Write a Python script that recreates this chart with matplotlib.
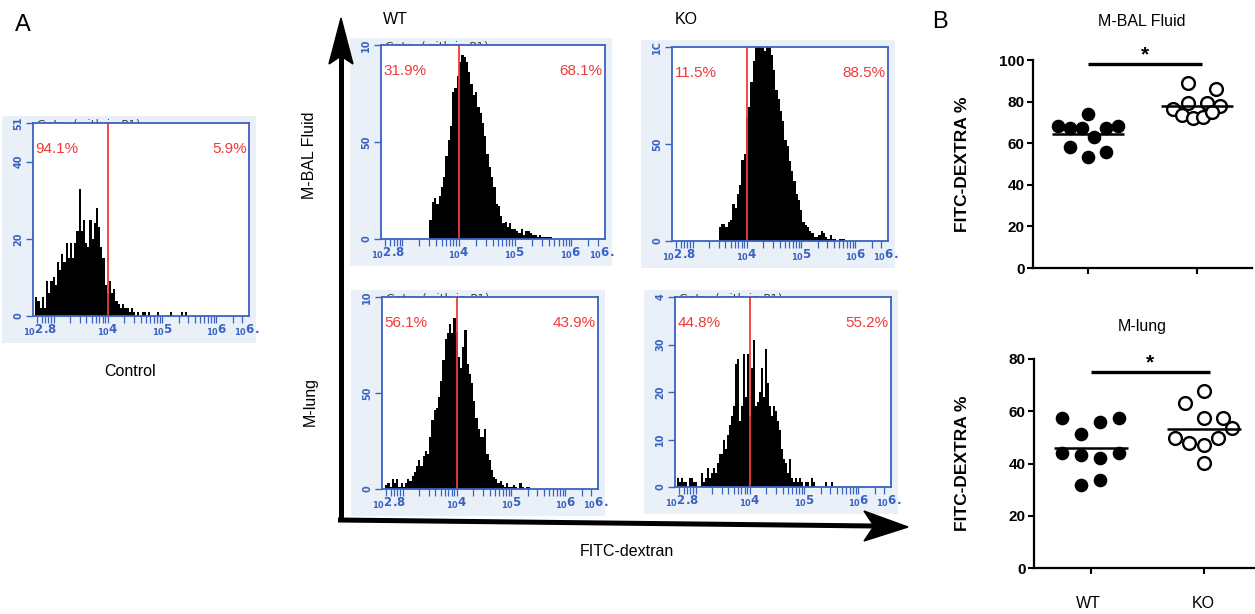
import numpy as np
import matplotlib
matplotlib.use('Agg')
import matplotlib.pyplot as plt
from matplotlib.patches import Rectangle, Polygon

plt.rcParams['font.family'] = ['Liberation Sans', 'DejaVu Sans']

W, H = 1255, 614
BLUE = '#3a62c2'
RED = '#f03a3a'
PANEL_BG = '#e9f0f7'

# ---- flow histograms: counts per log10 bin ----
control_counts = [5, 4, 2, 5, 2, 9, 6, 9, 10, 8, 14, 12, 16, 14, 19, 15, 19, 15, 19, 22,
                  33, 22, 25, 19, 18, 25, 20, 24, 28, 23, 18, 15, 8, 6, 9, 6, 7, 4, 3, 2,
                  3, 2, 2, 1, 2, 1, 0, 1, 0, 1, 1, 0, 1, 0, 0, 0, 1, 0, 0, 0,
                  0, 0, 1, 0, 0, 0, 0, 1, 0, 1]
wt_bal_counts = [10, 19, 21, 18, 22, 27, 32, 43, 51, 58, 76, 78, 84, 91, 95, 94, 91, 86, 80, 74,
                 76, 68, 65, 60, 53, 44, 37, 32, 27, 18, 17, 12, 8, 9, 6, 8, 5, 5, 4, 3,
                 5, 2, 4, 4, 3, 2, 2, 1, 2, 1, 1, 1, 1, 1]
ko_bal_counts = [7, 9, 9, 7, 10, 11, 19, 17, 24, 29, 42, 45, 64, 69, 82, 93, 110, 110, 110, 110,
                 98, 110, 105, 96, 88, 78, 73, 67, 62, 52, 49, 41, 36, 31, 24, 21, 16, 10, 8, 7,
                 5, 4, 2, 2, 3, 5, 4, 2, 1, 3, 1, 1, 0, 1, 1, 1]
wt_lung_counts = [2, 3, 1, 5, 3, 5, 1, 3, 1, 3, 5, 4, 7, 9, 12, 15, 12, 17, 20, 18,
                  27, 36, 41, 42, 48, 56, 67, 78, 81, 86, 81, 89, 82, 69, 63, 74, 83, 65, 60, 55,
                  46, 37, 31, 27, 27, 31, 18, 15, 10, 6, 5, 3, 4, 2, 1, 3, 1, 1, 2, 1,
                  0, 3, 1, 0, 1, 1]
ko_lung_counts = [2, 1, 2, 1, 1, 0, 2, 2, 1, 1, 0, 0, 3, 1, 2, 4, 2, 3, 4, 3,
                  5, 7, 7, 10, 8, 11, 13, 15, 17, 26, 27, 14, 17, 28, 19, 28, 15, 25, 31, 17,
                  18, 20, 25, 19, 29, 22, 17, 15, 17, 16, 14, 12, 8, 6, 5, 3, 6, 2, 1, 2,
                  1, 2, 1, 0, 1, 1, 0, 2, 1, 0, 0, 0, 0, 0, 1, 0, 0, 1]
pct_labels = {
    'control': ('94.1%', '5.9%'),
    'wt_bal': ('31.9%', '68.1%'),
    'ko_bal': ('11.5%', '88.5%'),
    'wt_lung': ('56.1%', '43.9%'),
    'ko_lung': ('44.8%', '55.2%'),
}
x_tick_labels = ['2.8', '4', '5', '6', '6.']
x_tick_pos = [2.75, 4.0, 5.0, 6.0, 6.55]
gate_text = 'Gate: (with in P1)'

# ---- FITC-DEXTRA % scatter data ----
wt_bal = [68.3, 67.2, 67.2, 74.0, 63.1, 67.2, 68.3, 58.3, 53.5, 55.6]
ko_bal = [88.8, 86.0, 76.3, 79.2, 79.2, 78.0, 73.6, 72.0, 72.8, 75.2]
wt_lung = [57.3, 56.0, 57.5, 51.2, 43.9, 43.3, 42.0, 43.9, 31.8, 33.7]
ko_lung = [67.9, 63.3, 57.3, 57.3, 53.7, 49.6, 47.7, 47.1, 49.6, 40.1]
groups = ['WT', 'KO']

# horizontal spread of the dots within each group
wt_bal_jit = [-0.275, -0.165, -0.055, 0, 0.055, 0.165, 0.275, -0.165, 0, 0.165]
ko_bal_jit = [-0.083, 0.174, -0.22, -0.083, 0.092, 0.211, -0.138, -0.037, 0.055, 0.138]
wt_lung_jit = [-0.257, 0.08, 0.248, -0.088, -0.257, -0.088, 0.08, 0.248, -0.088, 0.08]
ko_lung_jit = [0, -0.168, 0, 0.168, 0.248, -0.257, -0.133, 0, 0.124, 0]

fig = plt.figure(figsize=(W / 100, H / 100), dpi=100)
ov = fig.add_axes([0, 0, 1, 1], zorder=-1)
ov.set_xlim(0, W)
ov.set_ylim(H, 0)
ov.axis('off')


def px_axes(x0, y0, x1, y1):
    return fig.add_axes([x0 / W, 1 - y1 / H, (x1 - x0) / W, (y1 - y0) / H])


minor_pos = [np.log10(k * 10.0 ** n) for n in range(2, 7) for k in range(1, 10)]
minor_pos = [p for p in minor_pos if 2.62 <= p <= 6.6]


def draw_hist(box, start, bw, counts, ymax, yticks, ylabels, pcts, gate=True):
    x0, y0, x1, y1 = box
    ov.add_patch(Rectangle((x0 - 31, y0 - 7), (x1 - x0) + 38, (y1 - y0) + 34,
                           facecolor=PANEL_BG, edgecolor='none'))
    if gate:
        # header text of the cytometry export, half hidden behind the plot box
        ov.text(x0 + 4, y0 + 2, gate_text, fontsize=8.5, color='#444444',
                ha='left', va='center', family='DejaVu Sans')
    ax = px_axes(*box)
    edges = start + bw * np.arange(len(counts) + 1)
    ax.stairs(counts, edges, fill=True, color='black', lw=0)
    ax.axvline(4.0, color=RED, lw=1.3)
    ax.set_xlim(2.62, 6.6)
    ax.set_ylim(0, ymax)
    for s in ax.spines.values():
        s.set_color(BLUE)
        s.set_linewidth(1.3)
    ax.set_xticks(minor_pos)
    ax.set_xticklabels([])
    ax.tick_params(axis='x', direction='out', length=5, width=0.9, color=BLUE)
    ax.set_yticks(yticks)
    ax.set_yticklabels(ylabels, rotation=90, va='center', color=BLUE,
                       fontsize=7, fontweight='bold', family='DejaVu Sans')
    ax.tick_params(axis='y', direction='out', length=5, width=1.0, color=BLUE, pad=2)
    tr = ax.get_xaxis_transform()
    for p, lab in zip(x_tick_pos, x_tick_labels):
        ax.text(p, -0.075, r'$_{\mathregular{10}}$' + lab, transform=tr, ha='center',
                va='center', color=BLUE, fontsize=8.5, fontweight='bold',
                family='DejaVu Sans', clip_on=False)
    ax.text(0.012, 0.865, pcts[0], transform=ax.transAxes, ha='left', va='center',
            color=RED, fontsize=11)
    ax.text(0.99, 0.865, pcts[1], transform=ax.transAxes, ha='right', va='center',
            color=RED, fontsize=11)
    return ax


draw_hist((33, 123, 249, 316), 2.66, 0.04, control_counts, 50,
          [0, 20, 40, 50], ['0', '20', '40', '51'], pct_labels['control'])
draw_hist((381, 45, 605, 239), 3.48, 0.0405, wt_bal_counts, 100,
          [0, 50, 100], ['0', '50', '10'], pct_labels['wt_bal'])
draw_hist((672, 47, 888, 241), 3.48, 0.0417, ko_bal_counts, 100,
          [0, 50, 100], ['0', '50', '1C'], pct_labels['ko_bal'], gate=False)
draw_hist((382, 297, 598, 489), 2.68, 0.0405, wt_lung_counts, 100,
          [0, 50, 100], ['0', '50', '10'], pct_labels['wt_lung'])
draw_hist((675, 297, 891, 487), 2.65, 0.037, ko_lung_counts, 40,
          [0, 10, 20, 30, 40], ['0', '10', '20', '30', '4'], pct_labels['ko_lung'])

# axes arrows of panel A
ov.plot([341, 341], [521, 56], color='black', lw=3.6, solid_capstyle='butt')
ov.add_patch(Polygon([(329, 64), (341, 18), (353, 64), (341, 56)], closed=True,
                     facecolor='black', edgecolor='black'))
ov.plot([338, 874], [520, 526], color='black', lw=3.6, solid_capstyle='butt')
ov.add_patch(Polygon([(864, 511), (908, 527), (864, 541), (874, 526)], closed=True,
                     facecolor='black', edgecolor='black'))

ov.text(23, 25, 'A', fontsize=17, ha='center', va='center')
ov.text(940, 22, 'B', fontsize=17, ha='center', va='center')
ov.text(395, 20, 'WT', fontsize=11.5, ha='center', va='center')
ov.text(686, 20, 'KO', fontsize=11.5, ha='center', va='center')
ov.text(310, 155, 'M-BAL Fluid', fontsize=11.5, rotation=90, ha='center', va='center')
ov.text(310, 402, 'M-lung', fontsize=11.5, rotation=90, ha='center', va='center')
ov.text(130, 372, 'Control', fontsize=11.5, ha='center', va='center')
ov.text(627, 552, 'FITC-dextran', fontsize=11.5, ha='center', va='center')


def draw_scatter(box, wt, wt_j, ko, ko_j, ymax, xmax, sig_y, title, title_y):
    ax = px_axes(*box)
    ax.set_facecolor('none')
    ax.plot(1 + np.array(wt_j), wt, 'o', color='black', ms=8.8, clip_on=False)
    ax.plot(2 + np.array(ko_j), ko, 'o', mfc='white', mec='black', mew=1.7, ms=9.2,
            clip_on=False)
    ax.hlines([np.mean(wt), np.mean(ko)], [0.67, 1.67], [1.33, 2.33], color='black', lw=1.8)
    ax.plot([1.0, 2.05], [sig_y, sig_y], color='black', lw=2.4, solid_capstyle='butt',
            clip_on=False)
    ax.text(1.52, sig_y, '*', ha='center', va='bottom', fontsize=15, fontweight='bold',
            clip_on=False)
    ax.set_xlim(0.495, xmax)
    ax.set_ylim(0, ymax)
    ax.set_xticks([1, 2])
    ax.set_xticklabels([])
    ax.set_yticks(np.arange(0, ymax + 1, 20))
    ax.set_yticklabels([str(v) for v in range(0, ymax + 1, 20)], fontweight='bold',
                       fontsize=11)
    ax.tick_params(direction='out', length=4, width=1.5, pad=2)
    for side in ['top', 'right']:
        ax.spines[side].set_visible(False)
    for side in ['left', 'bottom']:
        ax.spines[side].set_linewidth(1.6)
    ax.set_ylabel('FITC-DEXTRA %', fontsize=12.5, fontweight='bold')
    ax.yaxis.set_label_coords((970 - box[0]) / (box[2] - box[0]), 0.5)
    ov.text(1142, title_y, title, fontsize=11.5, ha='center', va='center')
    return ax


draw_scatter((1033, 60, 1252, 268), wt_bal, wt_bal_jit, ko_bal, ko_bal_jit,
             100, 2.505, 98, 'M-BAL Fluid', 21)
draw_scatter((1034, 359, 1255, 568), wt_lung, wt_lung_jit, ko_lung, ko_lung_jit,
             80, 2.45, 75, 'M-lung', 327)
for g, xp in zip(groups, [1088, 1203]):
    ov.text(xp, 604, g, fontsize=11.5, ha='center', va='center')

fig.savefig('out.png', dpi=100)
